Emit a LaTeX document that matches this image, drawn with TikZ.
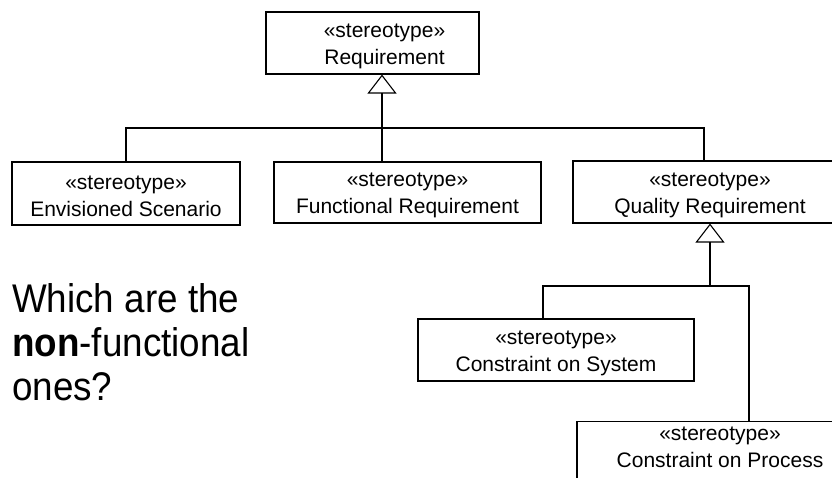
\documentclass[tikz,border=0pt]{standalone}
\usepackage{fontspec}
\setmainfont{Liberation Sans}
\newfontfamily\askfont[FakeStretch=0.92]{Liberation Sans}
\usetikzlibrary{arrows.meta}
\newcommand{\stereoname}[1]{\rule{0pt}{20pt}«stereotype»\\#1}
\tikzset{
    stereobox/.style={
        draw,
        line width=1.1pt,
        inner sep=0,
        align=center,
        font=\fontsize{21}{27}\selectfont,
    },
    genline/.style={
        line width=1.1pt,
    },
    genarrow/.style={
        genline,
        -{Triangle[open,length=19pt,width=29pt]},
    },
}

\begin{document}
\begin{tikzpicture}[x=1pt,y=-1pt]
            \clip (0,0) rectangle (832,477);

            % top of the hierarchy, its text sits a bit right of the middle
            \node[stereobox, minimum width=213, minimum height=62] at (372.5,43) (req)
                {\rule{0pt}{20pt}\hspace*{24pt}«stereotype»\\\hspace*{24pt}Requirement};
            \node[stereobox, minimum width=228, minimum height=63] at (126,193.5) (env) {\stereoname{Envisioned Scenario}};
            \node[stereobox, minimum width=267, minimum height=61] at (407.5,192.5) (func) {\stereoname{Functional Requirement}};
            \node[stereobox, minimum width=274, minimum height=62] at (710,192) (qual) {\stereoname{Quality Requirement}};
            \node[stereobox, minimum width=276, minimum height=62] at (556,350) (cos) {\stereoname{Constraint on System}};
            \node[stereobox, minimum width=286, anchor=north] at (720,421) (cop)
                {\rule{0pt}{19pt}«stereotype»\\Constraint on Process\rule[-14pt]{0pt}{14pt}};

            \node[anchor=north west, inner sep=0, align=left,
                font=\askfont\fontsize{40}{44}\selectfont] at (12,283) (ask)
                {Which are the\\\textbf{non}-functional\\ones?};

            \coordinate (hub1) at (382,128);
            \coordinate (qbus) at (704,128);
            \coordinate (hub2) at (710,286);
            \coordinate (cbus) at (543,286);
            \coordinate (pbus) at (749,286);

            \draw[genarrow] (func.north -| hub1) -- (req.south -| hub1);
            \draw[genline] (env.north) |- (qbus) -- (qbus |- qual.north);

            \draw[genarrow] (hub2) -- (qual.south -| hub2);
            \draw[genline] (cbus |- cos.north) -- (cbus) -- (pbus) -- (pbus |- cop.north);
        \end{tikzpicture}
\end{document}
